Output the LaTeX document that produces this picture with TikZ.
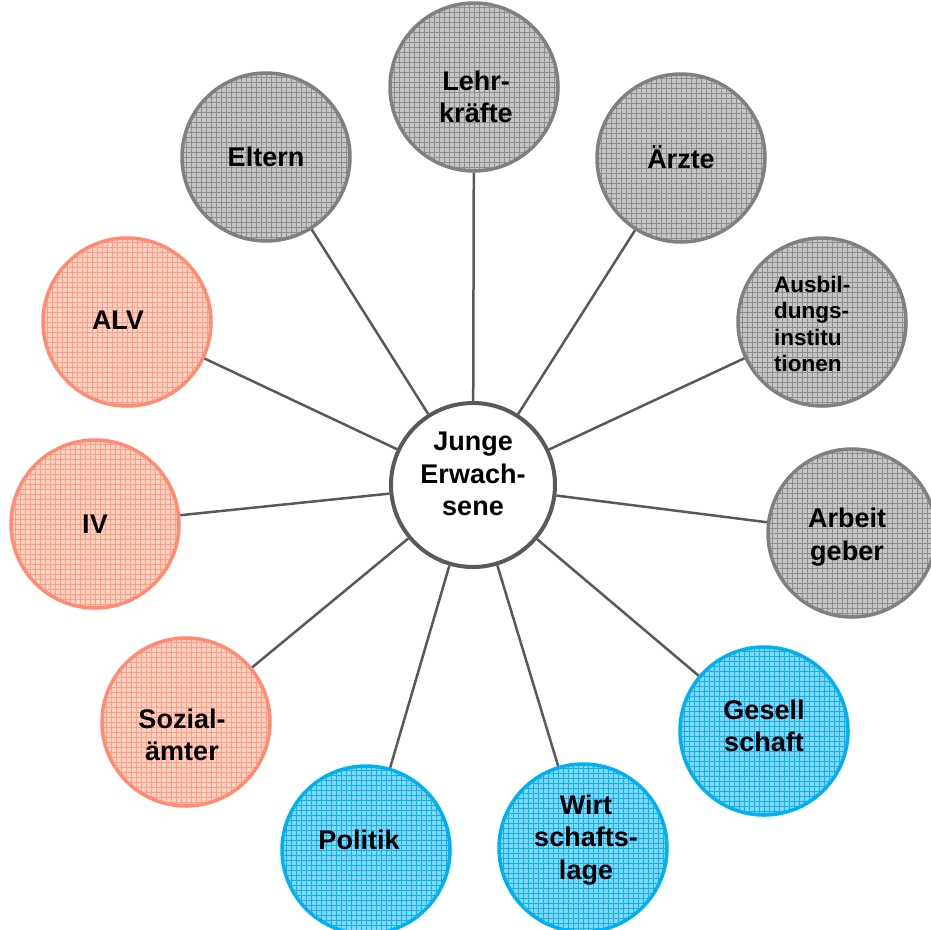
\documentclass[tikz,border=0pt]{standalone}
\usepackage{fontspec}
\setmainfont{Liberation Sans}
\definecolor{grayfill}{HTML}{C6C6C6}
\definecolor{graygrid}{HTML}{8E8E8E}
\definecolor{grayline}{HTML}{808080}
\definecolor{redfill}{HTML}{FFD2C4}
\definecolor{redgrid}{HTML}{FF9E85}
\definecolor{redline}{HTML}{FF8C72}
\definecolor{bluefill}{HTML}{84D6F8}
\definecolor{bluegrid}{HTML}{10B2EE}
\definecolor{blueline}{HTML}{00B0F0}
\definecolor{conn}{HTML}{595959}
\tikzset{
  bubble/.style={circle, minimum size=168pt, inner sep=0pt, line width=3.5pt},
  gridded/.style={path picture={\draw[#1, line width=0.9pt]
     (path picture bounding box.south west) grid[step=5pt]
     (path picture bounding box.north east);}},
  graybub/.style={bubble, draw=grayline, fill=grayfill, gridded=graygrid},
  redbub/.style={bubble, draw=redline, fill=redfill, gridded=redgrid},
  bluebub/.style={bubble, draw=blueline, fill=bluefill, gridded=bluegrid},
  hub/.style={circle, minimum size=164pt, inner sep=0pt, line width=4pt, draw=conn, fill=white},
  lbl/.style={align=center, inner sep=0pt, font=\bfseries\fontsize{27}{32.5}\selectfont},
  smalllbl/.style={align=left, inner sep=0pt, font=\bfseries\fontsize{22.5}{26.5}\selectfont},
  conline/.style={draw=conn, line width=2.5pt}
}
\begin{document}
\begin{tikzpicture}[x=1pt,y=-1pt]
\useasboundingbox (0,0) rectangle (931,929);
% outer circles
\node[graybub] (lehr) at (474,87) {};
\node[graybub] (eltern) at (266,157) {};
\node[graybub] (aerzte) at (681,158) {};
\node[graybub] (ausb) at (822,322) {};
\node[graybub] (arbeit) at (852,533) {};
\node[bluebub] (gesell) at (764,731) {};
\node[bluebub] (wirt) at (583,848) {};
\node[bluebub] (politik) at (366,850) {};
\node[redbub] (sozial) at (186,722) {};
\node[redbub] (iv) at (95,524) {};
\node[redbub] (alv) at (127,322) {};
% hub
\node[hub] (hub) at (473,485) {};
% connectors
\foreach \n in {lehr,eltern,aerzte,ausb,arbeit,gesell,wirt,politik,sozial,iv,alv}
  \draw[conline] (hub) -- (\n);
% labels
\node[lbl] (t-hub) at (473,474) {Junge\\Erwach-\\sene};
\node[lbl] (t-lehr) at (476,97) {Lehr-\\kräfte};
\node[lbl] (t-eltern) at (266,157) {Eltern};
\node[lbl] (t-aerzte) at (681,157) {Ärzte};
\node[smalllbl, anchor=west] (t-ausb) at (774,324) {Ausbil-\\dungs-\\institu\\tionen};
\node[lbl] (t-arbeit) at (847,537) {Arbeit\\geber};
\node[lbl] (t-gesell) at (764,726) {Gesell\\schaft};
\node[lbl] (t-wirt) at (586,840) {Wirt\\schafts-\\lage};
\node[lbl] (t-politik) at (359,840) {Politik};
\node[lbl] (t-sozial) at (182,735) {Sozial-\\ämter};
\node[lbl] (t-iv) at (95,524) {IV};
\node[lbl] (t-alv) at (118,320) {ALV};
\end{tikzpicture}
\end{document}
